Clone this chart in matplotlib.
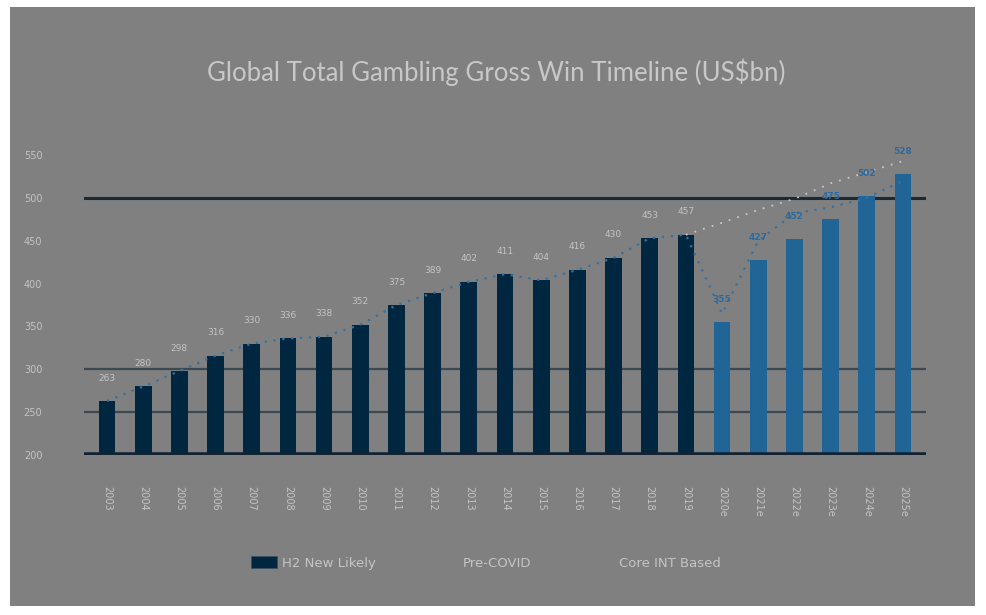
import matplotlib
matplotlib.use("Agg")
import matplotlib.pyplot as plt
from matplotlib.patches import Patch
from matplotlib.lines import Line2D

years = ["2003", "2004", "2005", "2006", "2007", "2008", "2009", "2010", "2011",
         "2012", "2013", "2014", "2015", "2016", "2017", "2018", "2019",
         "2020e", "2021e", "2022e", "2023e", "2024e", "2025e"]
gross_win = [263, 280, 298, 316, 330, 336, 338, 352, 375, 389, 402, 411, 404,
             416, 430, 453, 457, 355, 427, 452, 475, 502, 528]
n_hist = 17
pre_covid_years = ["2019", "2020e", "2021e", "2022e", "2023e", "2024e", "2025e"]
pre_covid = [457, 471, 486, 499, 517, 530, 543]
core_int = [263, 280, 298, 316, 330, 336, 338, 352, 375, 389, 402, 411, 404,
            416, 430, 453, 457, 365, 450, 482, 489, 500, 520]
yticks = [200, 250, 300, 350, 400, 450, 500, 550]
gridlines = [250, 300]

BG = "#808080"
NAVY = "#002640"
BLUE = "#216496"
LINEBLUE = "#3272a6"
LIGHT = "#c4c4c4"

fig = plt.figure(figsize=(9.87, 6.15), dpi=100, facecolor="white")
bg = fig.add_axes([10 / 987, 9 / 615, 965 / 987, 599 / 615], zorder=-5)
bg.set_facecolor(BG)
bg.set_xticks([])
bg.set_yticks([])
for s in bg.spines.values():
    s.set_visible(False)

ax = fig.add_axes([84 / 987, 160 / 615, 842 / 987, 308.5 / 615], zorder=1)
ax.set_facecolor("none")

x = list(range(len(years)))
colors = [NAVY] * n_hist + [BLUE] * (len(years) - n_hist)
ax.bar(x, gross_win, width=0.46, color=colors, zorder=3)

for g in gridlines:
    ax.axhline(g, color="#3c4852", lw=1.6, zorder=1)
ax.axhline(500, color="#1c2a36", lw=2.2, zorder=1)
ax.axhline(200, color="#132333", lw=4, zorder=4)

ax.plot(x, core_int, linestyle=(0, (1, 3)), color=LINEBLUE, lw=1.6, zorder=5)
pc_x = [years.index(y) for y in pre_covid_years]
ax.plot(pc_x, pre_covid, linestyle=(0, (1, 4)), color="#c8c8c8", lw=1.3, zorder=5)

for i, v in enumerate(gross_win):
    c = LIGHT if i < n_hist else "#2c6aa0"
    ax.annotate(str(v), (i, v), xytext=(0, 16.5), textcoords="offset points",
                ha="center", va="center", fontsize=6.5, color=c,
                fontweight="normal" if i < n_hist else "bold", zorder=6)

ax.set_xlim(-0.636, len(years) - 1 + 0.636)
ax.set_ylim(200, 560)
ax.set_yticks(yticks)
ax.set_xticks(x)
ax.set_xticklabels(years, rotation=-90, fontsize=7, color=LIGHT)
ax.tick_params(axis="x", length=0, pad=22)
ax.tick_params(axis="y", length=0, labelsize=7, labelcolor=LIGHT, pad=30)
for s in ax.spines.values():
    s.set_visible(False)

fig.text(0.503, 0.883, "Global Total Gambling Gross Win Timeline (US$bn)",
         ha="center", va="center", fontsize=18.5, color="#c8c8c8",
         family="Lato", zorder=10)

handles = [Patch(facecolor=NAVY, edgecolor="#3c5060", lw=0.5),
           Line2D([], [], color="none"),
           Line2D([], [], color="none")]
labels = ["H2 New Likely", "Pre-COVID", "Core INT Based"]
leg = fig.legend(handles, labels, loc="center", bbox_to_anchor=(0.492, 0.085),
                 ncol=3, frameon=False, fontsize=9.5, columnspacing=4.2,
                 handlelength=2.0, handleheight=1.1, handletextpad=0.4)
for t in leg.get_texts():
    t.set_color(LIGHT)

fig.savefig("out.png", dpi=100, facecolor="white")
